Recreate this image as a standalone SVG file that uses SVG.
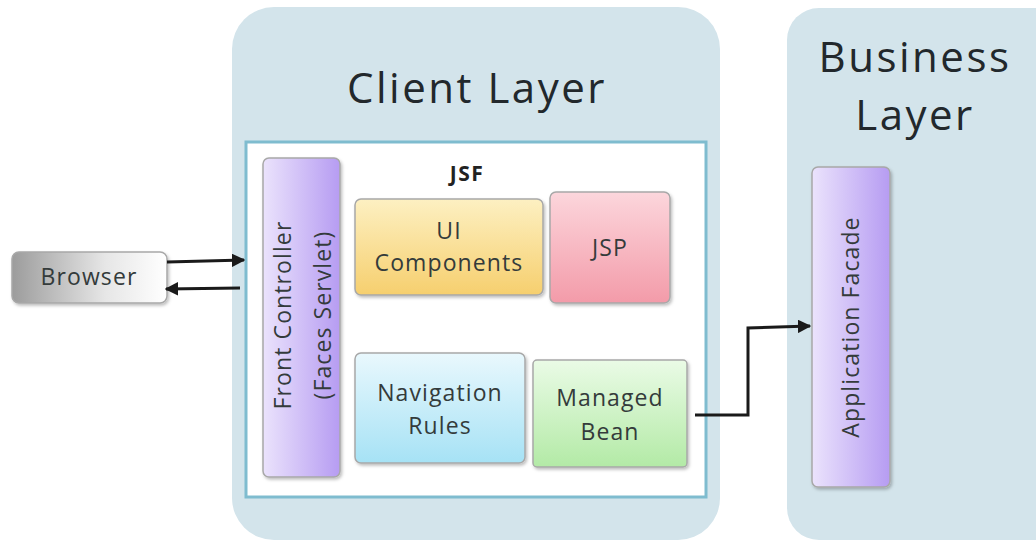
<svg xmlns="http://www.w3.org/2000/svg" width="1036" height="545" viewBox="0 0 1036 545">
<style>
.layer{fill:#d3e4eb;}
.title{font-family:"Open Sans","Liberation Sans",sans-serif;font-size:42px;letter-spacing:2.5px;fill:#22282c;text-anchor:middle;}
.lbl{font-family:"Open Sans","Liberation Sans",sans-serif;font-size:23px;letter-spacing:1.1px;fill:#343b3b;text-anchor:middle;}
.box{stroke:#a8a8a8;stroke-width:1.5;filter:url(#sh);}
.conn{fill:none;stroke:#1a1a1a;stroke-width:3;}
</style>
<defs>
<filter id="sh" x="-10%" y="-10%" width="125%" height="125%"><feDropShadow dx="1.5" dy="2" stdDeviation="1.5" flood-color="#000" flood-opacity="0.25"/></filter>
<linearGradient id="gPurple" x1="0" y1="0" x2="1" y2="0"><stop offset="0" stop-color="#ebe3fc"/><stop offset="1" stop-color="#b69cf2"/></linearGradient>
<linearGradient id="gYellow" x1="0" y1="0" x2="0" y2="1"><stop offset="0" stop-color="#fdf0c2"/><stop offset="1" stop-color="#f6cf6e"/></linearGradient>
<linearGradient id="gPink" x1="0" y1="0" x2="0" y2="1"><stop offset="0" stop-color="#fcd6dc"/><stop offset="1" stop-color="#f39ba9"/></linearGradient>
<linearGradient id="gBlue" x1="0" y1="0" x2="0" y2="1"><stop offset="0" stop-color="#e9f8fd"/><stop offset="1" stop-color="#a6e2f5"/></linearGradient>
<linearGradient id="gGreen" x1="0" y1="0" x2="0" y2="1"><stop offset="0" stop-color="#eafbe6"/><stop offset="1" stop-color="#b3eaa6"/></linearGradient>
<linearGradient id="gGray" x1="0" y1="0" x2="1" y2="0"><stop offset="0" stop-color="#9c9c9c"/><stop offset="0.6" stop-color="#e6e6e6"/><stop offset="1" stop-color="#ffffff"/></linearGradient>
<marker id="ah" viewBox="0 0 10 10" refX="9" refY="5" markerWidth="4.5" markerHeight="4.5" orient="auto-start-reverse" markerUnits="strokeWidth"><path d="M0,0 L10,5 L0,10 z" fill="#1a1a1a"/></marker>
</defs>

<g id="client-layer">
<rect class="layer" x="232" y="7" width="488" height="533" rx="42"/>
<text class="title" x="477" y="103">Client Layer</text>
</g>
<g id="business-layer">
<rect class="layer" x="787" y="8" width="280" height="532" rx="32"/>
<text class="title" x="915" y="72">Business</text>
<text class="title" x="915" y="130">Layer</text>
</g>
<g id="jsf">
<rect x="246" y="142" width="460" height="355" fill="#ffffff" stroke="#7fbccf" stroke-width="3"/>
<text x="467" y="181" font-family="Open Sans,Liberation Sans,sans-serif" font-size="21" font-weight="bold" letter-spacing="1.5" fill="#222" text-anchor="middle">JSF</text>
</g>
<g id="front-controller">
<rect class="box" x="263" y="158" width="77" height="319" rx="6" fill="url(#gPurple)"/>
<text class="lbl" transform="translate(291,315) rotate(-90)">Front Controller</text>
<text class="lbl" transform="translate(331,315) rotate(-90)">(Faces Servlet)</text>
</g>
<g id="ui-components">
<rect class="box" x="355" y="199" width="188" height="96" rx="6" fill="url(#gYellow)"/>
<text class="lbl" x="449" y="239">UI</text>
<text class="lbl" x="449" y="271">Components</text>
</g>
<g id="jsp">
<rect class="box" x="550" y="192" width="120" height="111" rx="6" fill="url(#gPink)"/>
<text class="lbl" x="610" y="256">JSP</text>
</g>
<g id="navigation-rules">
<rect class="box" x="355" y="353" width="170" height="110" rx="6" fill="url(#gBlue)"/>
<text class="lbl" x="440" y="401">Navigation</text>
<text class="lbl" x="440" y="434">Rules</text>
</g>
<g id="managed-bean">
<rect class="box" x="533" y="360" width="154" height="107" rx="4" fill="url(#gGreen)"/>
<text class="lbl" x="610" y="406">Managed</text>
<text class="lbl" x="610" y="440">Bean</text>
</g>
<g id="browser">
<rect class="box" x="12" y="252" width="155" height="51" rx="7" fill="url(#gGray)" stroke="#d0d0d0"/>
<text class="lbl" x="89" y="285" fill="#4a4a4a">Browser</text>
</g>
<g id="application-facade">
<rect class="box" x="812" y="167" width="78" height="320" rx="6" fill="url(#gPurple)"/>
<text class="lbl" transform="translate(859,327) rotate(-90)">Application  Facade</text>
</g>
<g id="connectors">
<path class="conn" d="M167,262 L244,260" marker-end="url(#ah)"/>
<path class="conn" d="M240,288 L166,289" marker-end="url(#ah)"/>
<path class="conn" d="M695,415 L748,415 L748,328 L810,326" marker-end="url(#ah)"/>
</g>
</svg>
